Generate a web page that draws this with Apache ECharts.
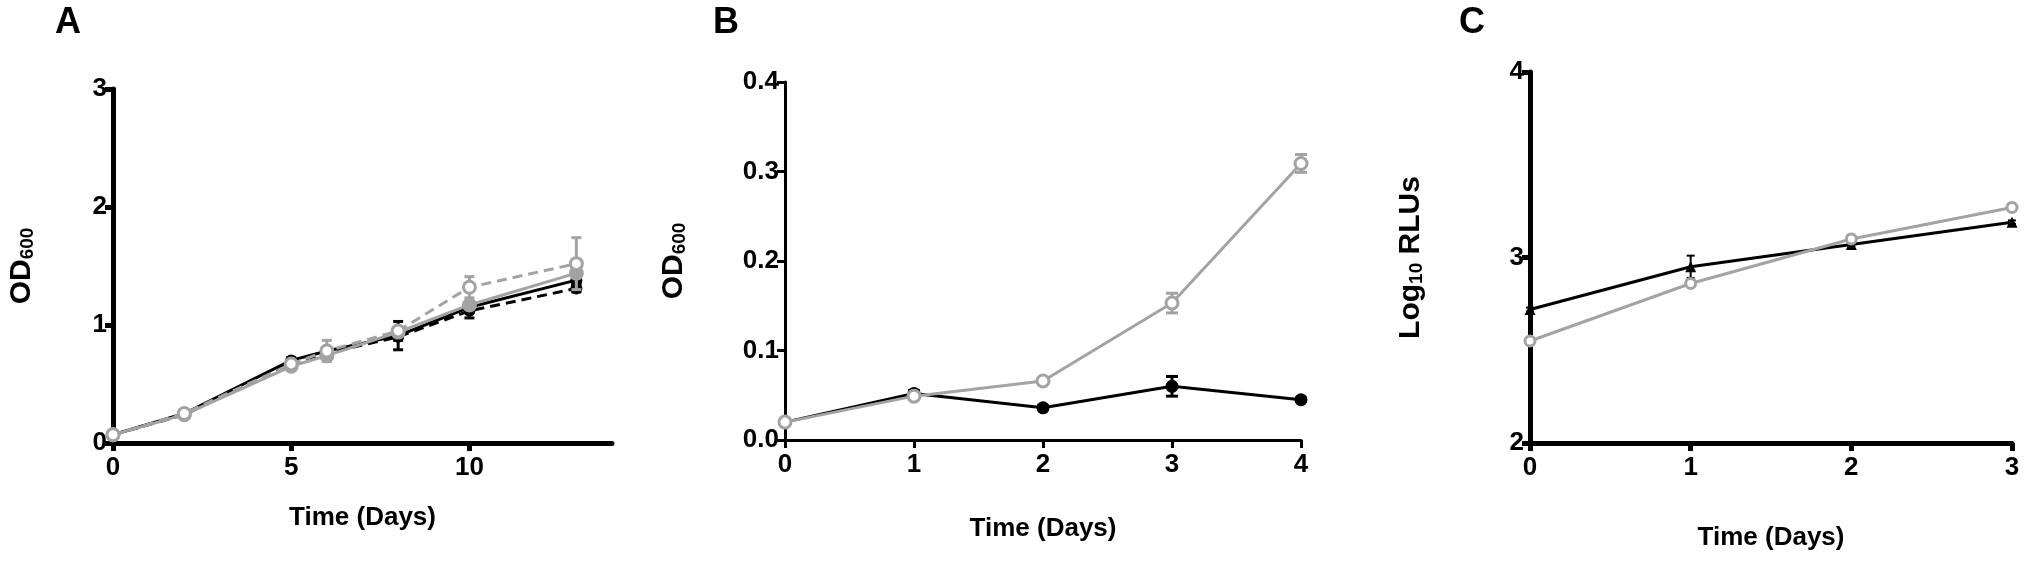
<!DOCTYPE html>
<html>
<head>
<meta charset="utf-8">
<script src="https://cdn.jsdelivr.net/npm/echarts@6/dist/echarts.min.js"></script>
<style>
  html, body { margin: 0; padding: 0; background: #fff; }
  #chart { width: 2026px; height: 563px; }
</style>
</head>
<body>
<div id="chart"></div>
<script>
'use strict';

/* Panel A: OD600 over 13 days, four cultures */
var daysA = [0, 2, 5, 6, 8, 10, 13];
var blackSolidA = [0.07, 0.25, 0.70, 0.78, 0.91, 1.15, 1.38];
var blackSolidErrA = [0.01, 0.01, 0.02, 0.03, 0.12, 0.04, 0.03];
var blackDashA = [0.07, 0.24, 0.68, 0.76, 0.90, 1.12, 1.31];
var blackDashErrA = [0.01, 0.01, 0.02, 0.02, 0.03, 0.06, 0.03];
var graySolidA = [0.07, 0.24, 0.65, 0.74, 0.94, 1.17, 1.44];
var graySolidErrA = [0.01, 0.01, 0.02, 0.02, 0.03, 0.03, 0.04];
var grayDashA = [0.07, 0.25, 0.67, 0.78, 0.95, 1.32, 1.52];
var grayDashErrA = [0.01, 0.01, 0.02, 0.09, 0.03, 0.09, 0.22];

/* Panel B: OD600 over 4 days */
var daysB = [0, 1, 2, 3, 4];
var blackB = [0.020, 0.052, 0.036, 0.060, 0.045];
var blackErrB = [0.002, 0.003, 0.002, 0.011, 0.002];
var grayB = [0.020, 0.049, 0.066, 0.153, 0.309];
var grayErrB = [0.002, 0.003, 0.002, 0.011, 0.010];

/* Panel C: Log10 RLUs over 3 days */
var daysC = [0, 1, 2, 3];
var blackC = [2.72, 2.95, 3.07, 3.19];
var blackErrC = [0.01, 0.06, 0.01, 0.01];
var grayC = [2.55, 2.86, 3.10, 3.27];
var grayErrC = [0.01, 0.01, 0.01, 0.02];

var FONT = 'Liberation Sans';
var GRAY = '#a3a3a3';

var chart = echarts.init(document.getElementById('chart'));

function xAxisDef(idx, max, ticks, lineW, gap) {
    return {
        type: 'value', gridIndex: idx, min: 0, max: max,
        name: 'Time (Days)', nameLocation: 'middle', nameGap: gap,
        nameTextStyle: { color: '#000', fontSize: 26, fontWeight: 'bold', fontFamily: FONT },
        axisLine: { onZero: false, lineStyle: { color: '#000', width: lineW } },
        axisTick: { length: 8, lineStyle: { color: '#000', width: lineW }, customValues: ticks },
        axisLabel: { color: '#000', fontSize: 26, fontWeight: 'bold', fontFamily: FONT, margin: 12, customValues: ticks },
        splitLine: { show: false }
    };
}

function yAxisDef(idx, min, max, interval, lineW, name, gap, fmt) {
    return {
        type: 'value', gridIndex: idx, min: min, max: max, interval: interval,
        name: name, nameLocation: 'middle', nameRotate: 90, nameGap: gap,
        nameTextStyle: {
            color: '#000', fontFamily: FONT,
            rich: {
                b: { fontSize: 30, fontWeight: 'bold', fontFamily: FONT, color: '#000' },
                s: { fontSize: 19, fontWeight: 'bold', fontFamily: FONT, color: '#000', verticalAlign: 'bottom', padding: [12, 0, 0, 0] }
            }
        },
        axisLine: { onZero: false, lineStyle: { color: '#000', width: lineW } },
        axisTick: { length: 8, lineStyle: { color: '#000', width: lineW } },
        axisLabel: { color: '#000', fontSize: 26, fontWeight: 'bold', fontFamily: FONT, margin: 6, formatter: fmt },
        splitLine: { show: false }
    };
}

function pairs(xs, ys) {
    return xs.map(function (x, i) { return [x, ys[i]]; });
}

function lineSeries(idx, xs, ys, color, width, dashed, symbol, size, filled, z) {
    return {
        type: 'line', xAxisIndex: idx, yAxisIndex: idx,
        data: pairs(xs, ys),
        symbol: symbol, symbolSize: size, showAllSymbol: true,
        lineStyle: { color: color, width: width, type: dashed ? [10, 6] : 'solid' },
        itemStyle: filled ? { color: color, borderWidth: 0 } : { color: '#fff', borderColor: color, borderWidth: 3 },
        z: z, animation: false
    };
}

function errSeries(idx, xs, ys, errs, color, width, cap, z) {
    return {
        type: 'custom', xAxisIndex: idx, yAxisIndex: idx,
        data: xs.map(function (x, i) { return [x, ys[i] - errs[i], ys[i] + errs[i]]; }),
        renderItem: function (params, api) {
            var lo = api.coord([api.value(0), api.value(1)]);
            var hi = api.coord([api.value(0), api.value(2)]);
            var st = { stroke: color, lineWidth: width };
            return {
                type: 'group',
                children: [
                    { type: 'line', shape: { x1: lo[0], y1: lo[1], x2: hi[0], y2: hi[1] }, style: st },
                    { type: 'line', shape: { x1: hi[0] - cap, y1: hi[1], x2: hi[0] + cap, y2: hi[1] }, style: st },
                    { type: 'line', shape: { x1: lo[0] - cap, y1: lo[1], x2: lo[0] + cap, y2: lo[1] }, style: st }
                ]
            };
        },
        z: z, animation: false
    };
}

chart.setOption({
    backgroundColor: '#fff',
    animation: false,
    textStyle: { fontFamily: FONT },
    grid: [
        { left: 113, top: 89, width: 499, height: 354 },
        { left: 785, top: 82, width: 516, height: 358 },
        { left: 1530, top: 72, width: 482, height: 371 }
    ],
    xAxis: [
        xAxisDef(0, 14, [0, 5, 10], 5, 62),
        xAxisDef(1, 4, [0, 1, 2, 3, 4], 3, 76),
        xAxisDef(2, 3, [0, 1, 2, 3], 5, 82)
    ],
    yAxis: [
        yAxisDef(0, 0, 3, 1, 5, '{b|OD}{s|600}', 76, function (v) { return v.toFixed(0); }),
        yAxisDef(1, 0, 0.4, 0.1, 3, '{b|OD}{s|600}', 96, function (v) { return v.toFixed(1); }),
        yAxisDef(2, 2, 4, 1, 5, '{b|Log}{s|10}{b| RLUs}', 104, function (v) { return v.toFixed(0); })
    ],
    graphic: [
        { type: 'text', left: 55, top: 5, style: { text: 'A', fontSize: 36, fontWeight: 'bold', fontFamily: FONT, fill: '#000' } },
        { type: 'text', left: 713, top: 5, style: { text: 'B', fontSize: 36, fontWeight: 'bold', fontFamily: FONT, fill: '#000' } },
        { type: 'text', left: 1459, top: 5, style: { text: 'C', fontSize: 36, fontWeight: 'bold', fontFamily: FONT, fill: '#000' } }
    ],
    series: [
        // Panel A
        errSeries(0, daysA, blackDashA, blackDashErrA, '#000', 3, 5, 2),
        lineSeries(0, daysA, blackDashA, '#000', 3, true, 'circle', 12, true, 3),
        errSeries(0, daysA, blackSolidA, blackSolidErrA, '#000', 3, 5, 4),
        lineSeries(0, daysA, blackSolidA, '#000', 3, false, 'circle', 12, true, 5),
        errSeries(0, daysA, graySolidA, graySolidErrA, GRAY, 3, 5, 6),
        lineSeries(0, daysA, graySolidA, GRAY, 3, false, 'circle', 15, true, 7),
        errSeries(0, daysA, grayDashA, grayDashErrA, GRAY, 3, 5, 8),
        lineSeries(0, daysA, grayDashA, GRAY, 3, true, 'circle', 12, false, 9),
        // Panel B
        errSeries(1, daysB, blackB, blackErrB, '#000', 3, 6, 2),
        lineSeries(1, daysB, blackB, '#000', 3, false, 'circle', 13, true, 3),
        errSeries(1, daysB, grayB, grayErrB, GRAY, 3, 6, 4),
        lineSeries(1, daysB, grayB, GRAY, 3, false, 'circle', 12, false, 5),
        // Panel C
        errSeries(2, daysC, blackC, blackErrC, '#000', 2, 4, 2),
        lineSeries(2, daysC, blackC, '#000', 3, false, 'triangle', 11, true, 3),
        errSeries(2, daysC, grayC, grayErrC, GRAY, 2, 4, 4),
        lineSeries(2, daysC, grayC, GRAY, 3, false, 'circle', 10, false, 5)
    ]
});
</script>
</body>
</html>
